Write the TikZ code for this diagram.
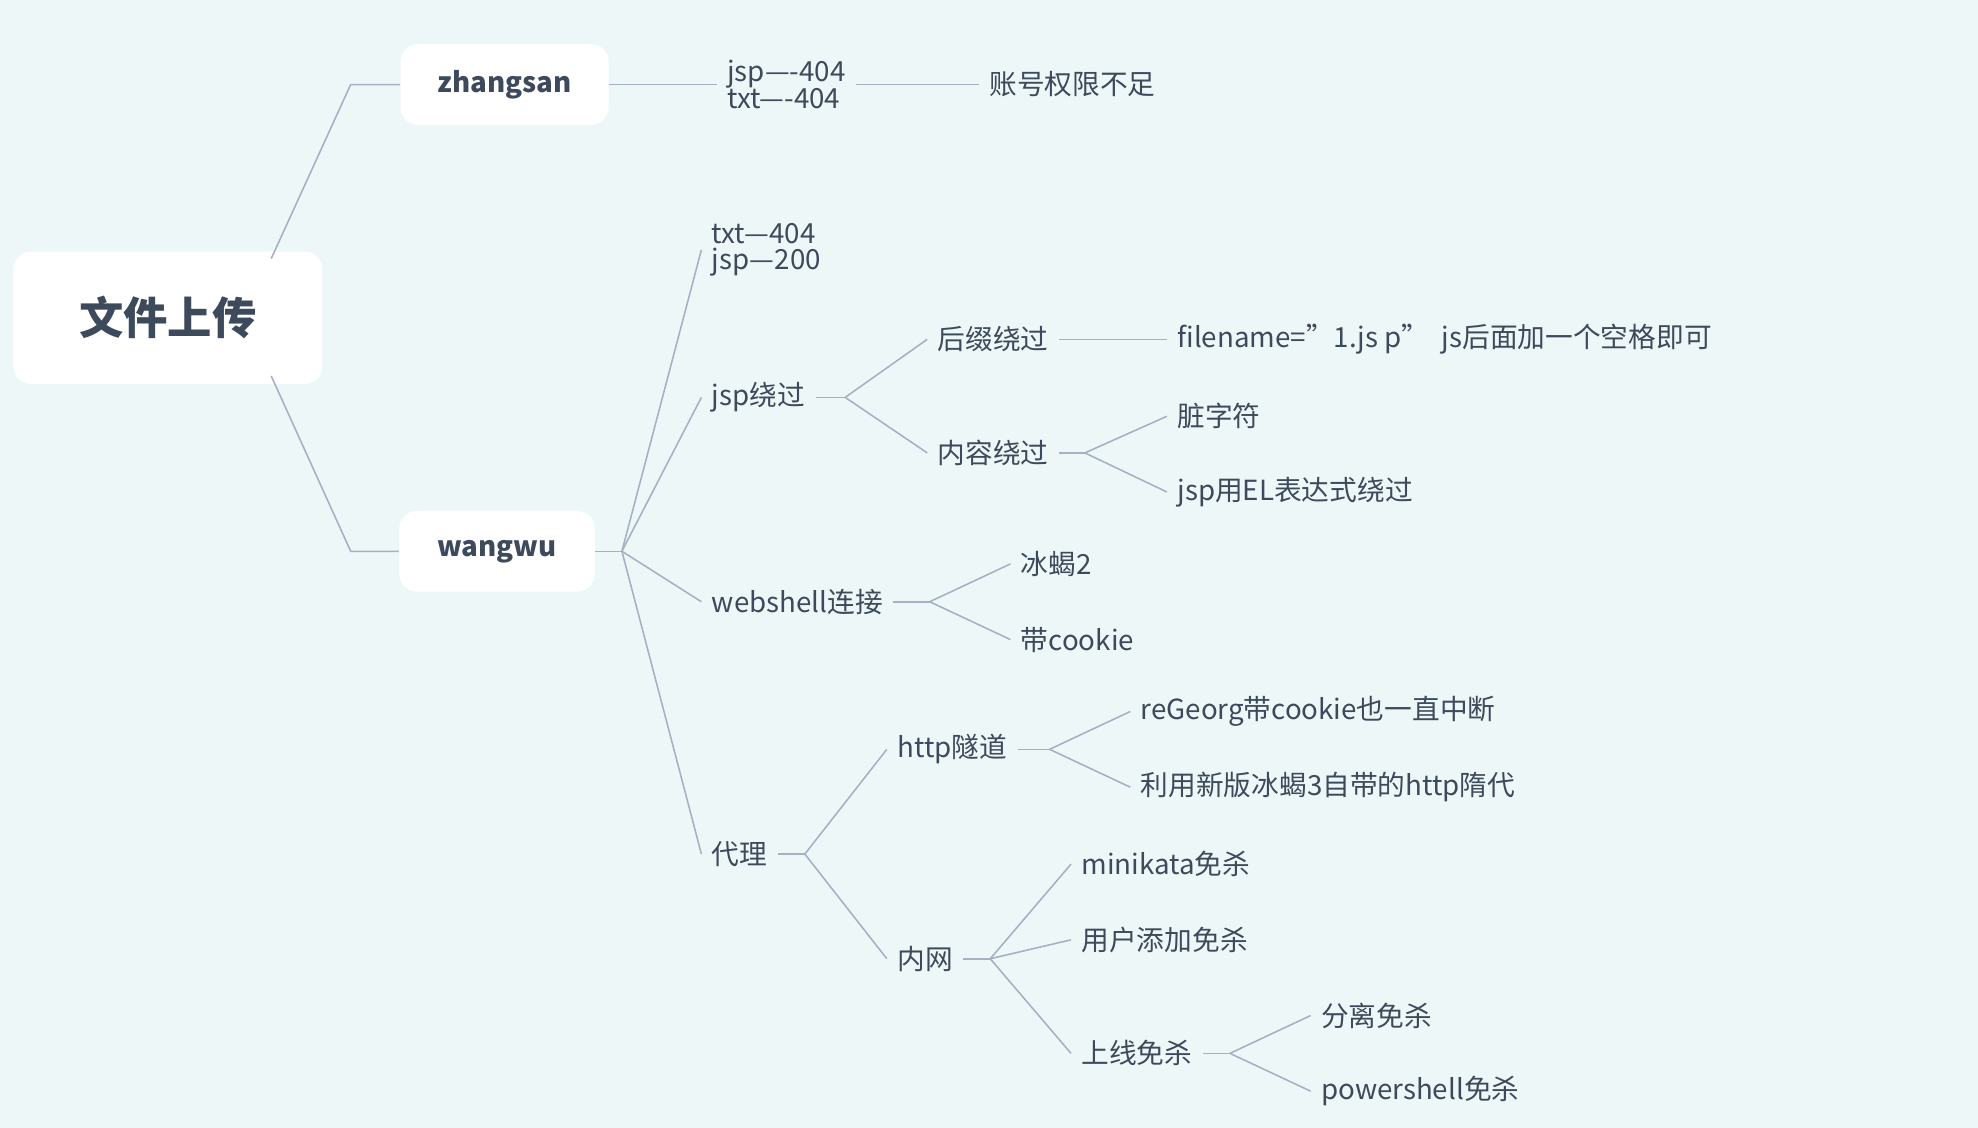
\documentclass[tikz,border=0pt]{standalone}
\usepackage{fontspec}
\setmainfont{Noto Sans CJK SC}
\usetikzlibrary{positioning}
\definecolor{mapbg}{HTML}{EEF7F8}
\definecolor{mapline}{HTML}{A3B1C2}
\definecolor{maptext}{HTML}{3D4A5C}

\begin{document}
\begin{tikzpicture}[x=0.02cm, y=-0.02cm,
  leaf/.style={anchor=west, inner xsep=0.16cm, inner ysep=2pt, text=maptext,
    font=\fontsize{12.5}{15}\selectfont, align=left},
  topic/.style={fill=white, text=maptext, rounded corners=8pt,
    font=\bfseries\fontsize{12.5}{15}\selectfont},
  link/.style={mapline, line width=0.7pt}]
  % background
  \fill[mapbg] (0,0) rectangle (1568,894);
  \useasboundingbox (0,0) rectangle (1568,894);
  % main topics
  \node[topic, minimum width=4.9cm, minimum height=2.1cm,
    font=\bfseries\fontsize{20}{24}\selectfont] (root) at (133,252) {文件上传};
  \node[topic, minimum width=3.3cm, minimum height=1.28cm] (zs) at (400,67) {zhangsan};
  \node[topic, minimum width=3.1cm, minimum height=1.28cm] (ww) at (394,437) {wangwu};
  % zhangsan branch
  \node[leaf] (zs404) at (568,67) {jsp----404\\[-3pt]txt----404};
  \node[leaf] (perm) at (776,67) {账号权限不足};
  % wangwu branch
  \node[leaf] (ww404) at (556,198) {txt---404\\[-3pt]jsp---200};
  \node[leaf] (jspby) at (556,315) {jsp绕过};
  \node[leaf] (suffix) at (735,269) {后缀绕过};
  \node[leaf] (fname) at (925,269) {filename="1.js p"\ \ js后面加一个空格即可};
  \node[leaf] (content) at (735,359) {内容绕过};
  \node[leaf] (dirty) at (925,330) {脏字符};
  \node[leaf] (el) at (925,390) {jsp用EL表达式绕过};
  \node[leaf] (wsh) at (556,477) {webshell连接};
  \node[leaf] (bx2) at (801,447) {冰蝎2};
  \node[leaf] (ck) at (801,507) {带cookie};
  \node[leaf] (proxy) at (556,677) {代理};
  \node[leaf] (http) at (703,594) {http隧道};
  \node[leaf] (regeorg) at (896,564) {reGeorg带cookie也一直中断};
  \node[leaf] (bx3) at (896,624) {利用新版冰蝎3自带的http隋代};
  \node[leaf] (lan) at (703,760) {内网};
  \node[leaf] (mk) at (849,685) {minikata免杀};
  \node[leaf] (user) at (849,745) {用户添加免杀};
  \node[leaf] (online) at (849,835) {上线免杀};
  \node[leaf] (split) at (1039,805) {分离免杀};
  \node[leaf] (ps) at (1039,865) {powershell免杀};
  % junctions
  \coordinate (jr1) at (215,205);
  \coordinate (jr2) at (215,298);
  \coordinate (jww) at (493,437);
  \coordinate (jjsp) at (670,315);
  \coordinate (jcon) at (860,359);
  \coordinate (jwsh) at (737,477);
  \coordinate (jpx) at (638,677);
  \coordinate (jhttp) at (832,594);
  \coordinate (jlan) at (785,760);
  \coordinate (jon) at (975,835);
  % connectors
  \draw[link] (jr1) -- (278,67) -- (zs.west);
  \draw[link] (jr2) -- (278,437) -- (ww.west);
  \draw[link] (zs.east) -- (zs404.west);
  \draw[link] (zs404.east) -- (perm.west);
  \draw[link] (ww.east) -- (jww);
  \foreach \c in {ww404,jspby,wsh,proxy}
    \draw[link] (jww) -- (\c.west);
  \draw[link] (jspby.east) -- (jjsp);
  \foreach \c in {suffix,content}
    \draw[link] (jjsp) -- (\c.west);
  \draw[link] (suffix.east) -- (fname.west);
  \draw[link] (content.east) -- (jcon);
  \foreach \c in {dirty,el}
    \draw[link] (jcon) -- (\c.west);
  \draw[link] (wsh.east) -- (jwsh);
  \foreach \c in {bx2,ck}
    \draw[link] (jwsh) -- (\c.west);
  \draw[link] (proxy.east) -- (jpx);
  \foreach \c in {http,lan}
    \draw[link] (jpx) -- (\c.west);
  \draw[link] (http.east) -- (jhttp);
  \foreach \c in {regeorg,bx3}
    \draw[link] (jhttp) -- (\c.west);
  \draw[link] (lan.east) -- (jlan);
  \foreach \c in {mk,user,online}
    \draw[link] (jlan) -- (\c.west);
  \draw[link] (online.east) -- (jon);
  \foreach \c in {split,ps}
    \draw[link] (jon) -- (\c.west);
\end{tikzpicture}
\end{document}
